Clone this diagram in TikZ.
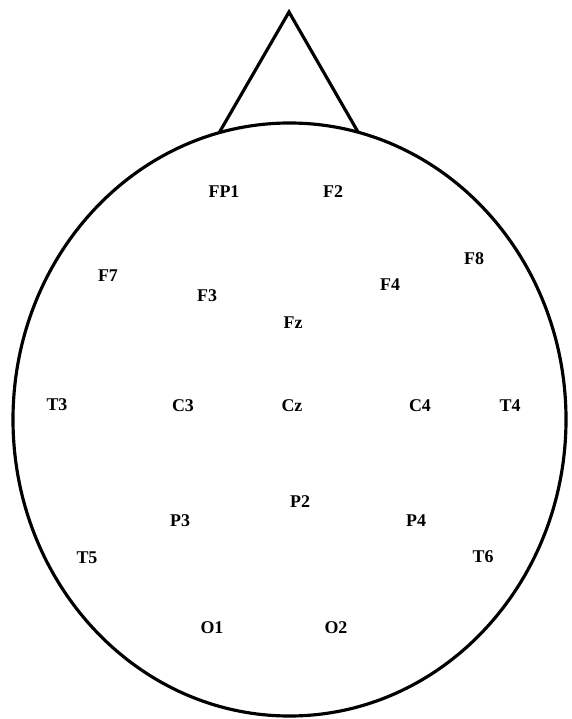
\documentclass[tikz,border=0pt]{standalone}
\usepackage{fontspec}
\setmainfont{Liberation Serif}
\usepackage{tikz}

\begin{document}
\begin{tikzpicture}[x=0.02cm,y=-0.02cm,line width=1.8pt,
  font=\fontsize{10.2}{12}\selectfont\bfseries,
  electrode/.style={inner sep=1pt}]
\path[use as bounding box] (0,0) rectangle (571,719);
% head and nose
\draw (289.5,419.5) ellipse [x radius=276.5, y radius=296.5];
\coordinate (nose) at (289,12);
\coordinate (noseL) at (219,133);
\coordinate (noseR) at (358,132);
\draw[line join=miter] (noseL) -- (nose) -- (noseR);
% electrodes
\foreach \lbl/\x/\y in {FP1/224/192,F2/333/192,F7/108/276,F8/474/259,
  F3/207/296,F4/390/285,Fz/293/323,T3/57/405,C3/183/406,Cz/292/406,
  C4/420/406,T4/510/406,P2/300/502,P3/180/521,P4/416/521,T5/87/558,
  T6/483/557,O1/212/628,O2/336/628}
  \node[electrode] (\lbl) at (\x,\y) {\lbl};
\end{tikzpicture}
\end{document}
